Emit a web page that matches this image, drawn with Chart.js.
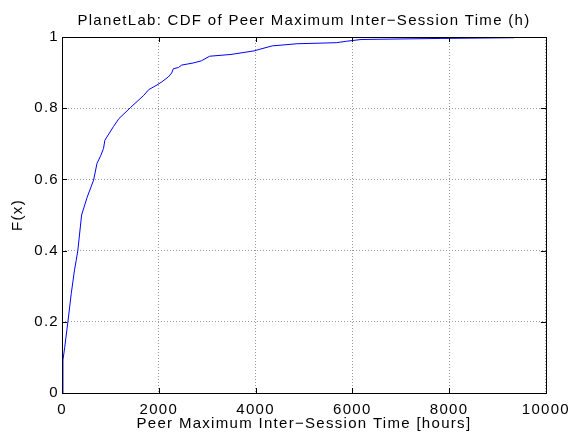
<!DOCTYPE html>
<html>
<head>
<meta charset="utf-8">
<script src="https://cdn.jsdelivr.net/npm/chart.js@4.4.0/dist/chart.umd.min.js"></script>
<style>
  html, body { margin: 0; padding: 0; background: #fff; }
  #wrap { width: 578px; height: 439px; }
</style>
</head>
<body>
<div id="wrap"><canvas id="cdf-chart" width="578" height="439"></canvas></div>
<script>
// CDF de tiempo máximo entre sesiones (horas)
const hours = [0, 20, 55, 122, 192, 259, 294, 327, 405, 520, 653, 723, 804, 858, 886, 1062, 1178,
               1417, 1689, 1791, 1961, 2063, 2199, 2267, 2301, 2404, 2471, 2710, 2879, 3051,
               3492, 3970, 4072, 4343, 4854, 5671, 5875, 6181, 7850, 9347];
const cdf   = [0, 0.093, 0.127, 0.2, 0.28, 0.346, 0.373, 0.4, 0.5, 0.55, 0.598, 0.645, 0.668, 0.687, 0.71, 0.748, 0.771,
               0.802, 0.836, 0.852, 0.865, 0.874, 0.888, 0.899, 0.911, 0.914, 0.921, 0.927, 0.933, 0.946,
               0.951, 0.961, 0.965, 0.975, 0.981, 0.984, 0.988, 0.993, 0.996, 0.998];
const xTicks = [0, 2000, 4000, 6000, 8000, 10000];
const yTicks = [0, 0.2, 0.4, 0.6, 0.8, 1];

const FONT = "'Liberation Sans', Helvetica, Arial, sans-serif";
const LETTER_SP = '1.3px';

// texto algo más ancho (estilo figura de MATLAB exportada)
const wideText = {
    id: 'wideText',
    beforeUpdate(chart) { chart.ctx.letterSpacing = LETTER_SP; },
    beforeDraw(chart)   { chart.ctx.letterSpacing = LETTER_SP; }
};

// caja negra + marcas hacia adentro en los cuatro lados
const matlabBox = {
    id: 'matlabBox',
    afterDraw(chart) {
        const { ctx, chartArea: a, scales } = chart;
        const tl = 5;
        ctx.save();
        ctx.strokeStyle = '#000';
        ctx.lineWidth = 1;
        ctx.setLineDash([]);
        ctx.beginPath();
        scales.x.ticks.forEach(t => {
            const px = Math.round(scales.x.getPixelForValue(t.value)) + 0.5;
            ctx.moveTo(px, a.bottom); ctx.lineTo(px, a.bottom - tl);
            ctx.moveTo(px, a.top);    ctx.lineTo(px, a.top + tl);
        });
        scales.y.ticks.forEach(t => {
            const py = Math.round(scales.y.getPixelForValue(t.value)) + 0.5;
            ctx.moveTo(a.left, py);  ctx.lineTo(a.left + tl, py);
            ctx.moveTo(a.right, py); ctx.lineTo(a.right - tl, py);
        });
        ctx.stroke();
        ctx.strokeRect(Math.round(a.left) + 0.5, Math.round(a.top) + 0.5,
                       Math.round(a.right - a.left), Math.round(a.bottom - a.top));
        ctx.restore();
    }
};

const gridOpts   = { color: '#9a9a9a', lineWidth: 1, drawTicks: false };
const borderOpts = { display: false, dash: [1, 2] };

new Chart(document.getElementById('cdf-chart'), {
    type: 'line',
    data: {
        datasets: [{
            data: hours.map((h, i) => ({ x: h, y: cdf[i] })),
            borderColor: '#0000ff',
            borderWidth: 1,
            pointRadius: 0,
            tension: 0,
            fill: false
        }]
    },
    options: {
        responsive: false,
        animation: false,
        layout: { padding: { left: 0, right: 26, top: 0, bottom: 0 } },
        plugins: {
            legend: { display: false },
            tooltip: { enabled: false },
            title: {
                display: true,
                fullSize: false,   // centrado sobre el área de ejes
                text: 'PlanetLab: CDF of Peer Maximum Inter\u2212Session Time (h)',
                color: '#000',
                font: { family: FONT, size: 15, weight: 'normal', lineHeight: 1.2 },
                padding: { top: 12, bottom: 7 }
            }
        },
        scales: {
            x: {
                type: 'linear',
                min: 0, max: 10000,
                afterBuildTicks: s => { s.ticks = xTicks.map(v => ({ value: v })); },
                afterFit: s => { s.height = 46; },
                grid: gridOpts,
                border: borderOpts,
                ticks: {
                    color: '#000', padding: 8, maxRotation: 0,
                    font: { family: FONT, size: 15 },
                    callback: v => String(v)
                },
                title: {
                    display: true,
                    text: 'Peer Maximum Inter\u2212Session Time [hours]',
                    color: '#000',
                    font: { family: FONT, size: 15 },
                    padding: { top: 0, bottom: 6.5 }
                }
            },
            y: {
                min: 0, max: 1,
                afterBuildTicks: s => { s.ticks = yTicks.map(v => ({ value: v })); },
                afterFit: s => { s.width = 62; },
                grid: gridOpts,
                border: borderOpts,
                ticks: {
                    color: '#000', padding: 3,
                    font: { family: FONT, size: 15 },
                    callback: v => String(v)
                },
                title: {
                    display: true,
                    text: 'F(x)',
                    color: '#000',
                    font: { family: FONT, size: 15 },
                    padding: { top: 9, bottom: 0 }
                }
            }
        }
    },
    plugins: [wideText, matlabBox]
});
</script>
</body>
</html>
